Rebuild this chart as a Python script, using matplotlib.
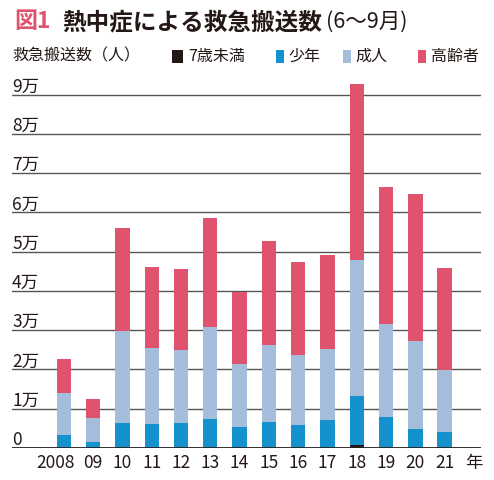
import matplotlib.pyplot as plt
import matplotlib.transforms as mtransforms
from matplotlib.patches import Rectangle
import numpy as np

plt.rcParams['font.family'] = ['Noto Sans CJK JP', 'DejaVu Sans']

# values (persons)
years = ['2008', '09', '10', '11', '12', '13', '14', '15', '16', '17', '18', '19', '20', '21']
under7 = [0, 0, 0, 0, 0, 0, 0, 0, 0, 0, 700, 0, 0, 0]
youth = [3400, 1530, 6300, 6100, 6300, 7500, 5400, 6600, 5900, 7100, 12500, 7900, 4800, 4100]
adult = [10500, 6110, 23600, 19300, 18600, 23300, 16000, 19600, 17700, 18200, 34700, 23700, 22400, 15800]
elderly = [8850, 4920, 26100, 20700, 20700, 27800, 18400, 26500, 23900, 23900, 44700, 35000, 37400, 26000]

series = [('7歳未満', under7, '#231815'),
          ('少年', youth, '#1592cd'),
          ('成人', adult, '#a3bddb'),
          ('高齢者', elderly, '#e0536e')]

W, H = 494, 480
fig = plt.figure(figsize=(W / 100, H / 100), dpi=100)

# axes placed in pixels: left 12, right 481, baseline 448, top 75
ax = fig.add_axes([12 / W, (H - 448) / H, 469 / W, (448 - 75) / H])
x = np.arange(len(years))
bottom = np.zeros(len(years))
for name, vals, col in series:
    ax.bar(x, vals, width=0.49, bottom=bottom, color=col, zorder=3)
    bottom += np.array(vals)

ax.set_xlim(-1.77, 14.24)
ax.set_ylim(0, 95000)
for s in ax.spines.values():
    s.set_visible(False)

# horizontal rules
for v in range(10000, 100000, 10000):
    ax.axhline(v, color='#555555', lw=1.0, zorder=1)
ax.axhline(0, color='#222222', lw=1.3, zorder=4)

# y labels sit on top of their rules
ax.set_yticks([])
off = mtransforms.offset_copy(ax.get_yaxis_transform(), fig=fig, x=0, y=3, units='dots')
for v in range(0, 100000, 10000):
    lab = '0' if v == 0 else f'{v // 10000}万'
    ax.text(0, v, lab, transform=off, ha='left', va='baseline', fontsize=12.5, color='#231815')

ax.set_xticks(list(x) + [14])
ax.set_xticklabels(years + ['年'], fontsize=12.5, color='#231815')
ax.tick_params(axis='x', length=0, pad=4)
# "2008" is pushed left in the original so it clears "09"
first = ax.get_xticklabels()[0]
first.set_transform(first.get_transform() + mtransforms.ScaledTranslation(-0.08, 0, fig.dpi_scale_trans))

# title
fig.text(14 / W, 1 - 22 / H, '図1', fontsize=16.5, fontweight='bold', color='#e0536e', va='center')
fig.text(62 / W, 1 - 22 / H, '熱中症による救急搬送数', fontsize=17, fontweight='bold', color='#231815', va='center')
fig.text(326 / W, 1 - 22 / H, '(6〜9月)', fontsize=15.5, color='#231815', va='center')

# legend row
fig.text(12 / W, 1 - 56 / H, '救急搬送数（人）', fontsize=11.5, color='#231815', va='center')
legend_pos = [(172, 11), (276, 7.5), (343, 7.5), (418, 7.5)]
for (name, vals, col), (px, pw) in zip(series, legend_pos):
    fig.add_artist(Rectangle((px / W, 1 - 63 / H), pw / W, 13 / H, transform=fig.transFigure,
                             color=col, lw=0))
    fig.text((px + pw + 5) / W, 1 - 56 / H, name, fontsize=11.5, color='#231815', va='center')

fig.savefig('out.png', dpi=100)
